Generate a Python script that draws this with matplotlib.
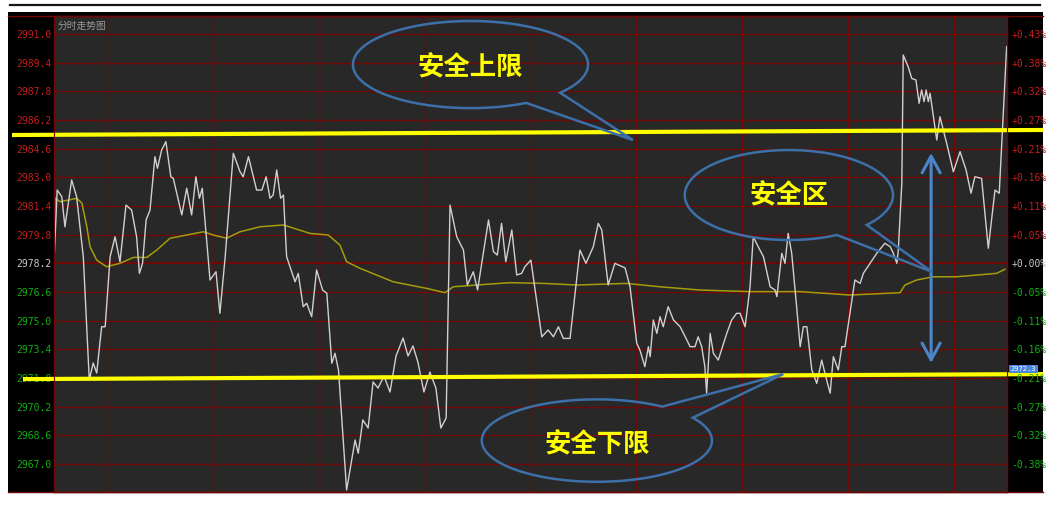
import numpy as np
import matplotlib
matplotlib.use('Agg')
import matplotlib.pyplot as plt
from matplotlib.patches import Rectangle, Polygon
from matplotlib.lines import Line2D
import matplotlib.transforms as mtrans

plt.rcParams['font.family'] = ['Noto Sans CJK SC', 'DejaVu Sans']

# intraday price (minute index, price)
price_t = [0, 0.9, 2.2, 3.1, 5.0, 6.4, 8.3, 10.0, 11.1, 12.1,
           13.5, 14.5, 15.9, 17.3, 18.7, 20.4, 22.0, 23.4, 24.2, 25.1,
           26.1, 27.2, 28.6, 29.3, 30.5, 31.7, 33.1, 33.8, 36.2, 37.6,
           39.0, 40.2, 41.2, 42.0, 44.2, 45.9, 47.0, 48.5, 50.8, 52.7,
           53.6, 55.1, 57.4, 58.9, 60.1, 61.2, 62.1, 63.1, 64.2, 65.0,
           65.9, 68.3, 69.2, 70.6, 71.6, 73.0, 74.4, 76.1, 77.3, 78.7,
           79.6, 80.6, 82.9, 85.3, 86.2, 87.5, 89.0, 90.4, 91.8, 93.5,
           95.2, 96.9, 98.9, 100.3, 101.7, 103.1, 104.8, 106.5, 108.2, 109.6,
           111.1, 112.2, 114.1, 116.0, 117.1, 118.8, 120.0, 123.1, 124.5, 125.6,
           126.8, 128.0, 129.7, 131.1, 132.5, 133.4, 135.1, 138.2, 140.0, 141.5,
           142.9, 144.3, 146.2, 149.0, 150.7, 152.8, 154.2, 155.2, 157.0, 158.9,
           161.8, 163.2, 165.1, 166.0, 167.4, 168.4, 168.9, 169.8, 170.8, 171.7,
           172.6, 174.0, 175.5, 177.4, 179.3, 180.2, 181.6, 182.5, 183.5, 184.4,
           184.9, 185.9, 186.8, 188.2, 190.6, 192.0, 193.4, 194.4, 195.8, 197.2,
           198.1, 200.0, 201.0, 202.9, 204.3, 204.8, 206.2, 207.1, 208.0, 209.0,
           210.4, 211.4, 212.3, 213.3, 214.7, 216.1, 217.5, 218.9, 219.9, 220.8,
           222.2, 223.2, 224.1, 225.5, 226.9, 228.4, 229.3, 231.2, 233.1, 235.4,
           236.9, 237.8, 238.8, 239.2, 240.2, 240.6, 242.0, 243.0, 244.2, 245.1,
           245.8, 246.5, 247.1, 247.7, 248.2, 250.1, 251.0, 252.9, 254.8, 256.7,
           258.4, 259.8, 260.9, 262.8, 264.7, 266.6, 267.8, 269.9]
price = [2978.29, 2982.29, 2981.92, 2980.24, 2982.85, 2981.92, 2978.57, 2971.69, 2972.64, 2972.08,
         2974.66, 2974.66, 2978.57, 2979.68, 2978.29, 2981.45, 2981.17, 2979.68, 2977.64, 2978.22,
         2980.62, 2981.17, 2984.15, 2983.50, 2984.52, 2984.99, 2983.03, 2982.94, 2980.90, 2982.39,
         2980.90, 2983.03, 2981.83, 2982.39, 2977.27, 2977.73, 2975.41, 2978.57, 2984.34, 2983.31,
         2983.03, 2984.15, 2982.29, 2982.29, 2983.03, 2981.83, 2982.01, 2983.41, 2981.83, 2982.01,
         2978.57, 2977.17, 2977.64, 2975.78, 2975.97, 2975.22, 2977.83, 2976.71, 2976.53, 2972.62,
         2973.18, 2972.25, 2965.55, 2968.34, 2967.60, 2969.46, 2969.01, 2971.58, 2971.24, 2971.91,
         2971.02, 2973.03, 2974.03, 2973.03, 2973.59, 2972.69, 2971.02, 2972.13, 2971.24, 2969.01,
         2969.57, 2981.45, 2979.68, 2978.94, 2976.99, 2977.73, 2976.71, 2980.62, 2978.85, 2978.66,
         2980.43, 2978.29, 2980.06, 2977.55, 2977.64, 2978.01, 2978.38, 2974.10, 2974.48, 2974.10,
         2974.66, 2974.01, 2974.01, 2978.94, 2978.20, 2979.13, 2980.43, 2980.06, 2976.99, 2978.20,
         2977.94, 2976.89, 2973.74, 2973.36, 2972.43, 2973.55, 2972.99, 2975.04, 2974.29, 2975.22,
         2974.66, 2975.78, 2975.04, 2974.66, 2973.92, 2973.55, 2973.55, 2974.10, 2973.55, 2972.43,
         2970.95, 2974.29, 2973.18, 2972.80, 2974.29, 2975.04, 2975.41, 2975.41, 2974.66, 2976.89,
         2979.68, 2978.94, 2978.57, 2976.89, 2976.71, 2976.34, 2978.76, 2978.20, 2979.87, 2978.76,
         2975.78, 2973.55, 2974.66, 2974.66, 2972.25, 2971.50, 2972.80, 2971.69, 2970.95, 2972.99,
         2972.25, 2973.55, 2973.55, 2975.41, 2977.27, 2977.08, 2977.64, 2978.20, 2978.76, 2979.32,
         2979.13, 2978.76, 2978.20, 2978.94, 2982.66, 2989.82, 2989.17, 2988.52, 2988.43, 2987.13,
         2987.87, 2987.22, 2987.87, 2987.22, 2987.69, 2985.08, 2986.38, 2984.90, 2983.31, 2984.43,
         2983.41, 2982.11, 2983.03, 2982.94, 2979.04, 2982.29, 2982.11, 2990.29]

# average price line
avg_t = [0, 0.3, 1.7, 4.1, 6.4, 7.9, 9.3, 10.2, 12.1, 14.9,
         18.7, 22.5, 26.3, 29.1, 32.9, 37.6, 42.3, 45.1, 48.9, 52.7,
         58.4, 65.0, 72.5, 77.7, 81.0, 82.9, 86.7, 96.1, 105.6, 110.8,
         113.1, 119.8, 129.2, 138.6, 148.1, 162.2, 171.7, 183.0, 197.2, 211.4,
         225.5, 239.7, 241.1, 244.4, 249.1, 255.8, 267.1, 269.4]
avg = [2979.50, 2981.84, 2981.64, 2981.73, 2981.83, 2981.56, 2980.24, 2979.13, 2978.38, 2978.01,
       2978.20, 2978.53, 2978.53, 2978.94, 2979.60, 2979.78, 2979.96, 2979.78, 2979.60, 2979.96,
       2980.24, 2980.34, 2979.87, 2979.78, 2979.22, 2978.29, 2977.92, 2977.17, 2976.80, 2976.56,
       2976.89, 2976.99, 2977.12, 2977.08, 2976.99, 2977.08, 2976.89, 2976.71, 2976.62, 2976.62,
       2976.43, 2976.56, 2976.99, 2977.27, 2977.45, 2977.45, 2977.64, 2977.87]

prev_close = 2978.2
y_ticks = [2991.0, 2989.4, 2987.8, 2986.2, 2984.6, 2983.0, 2981.4, 2979.8,
           2978.2, 2976.6, 2975.0, 2973.4, 2971.8, 2970.2, 2968.6, 2967.0]
y_labels = ['2991.0', '2989.4', '2987.8', '2986.2', '2984.6', '2983.0', '2981.4', '2979.8',
            '2978.2', '2976.6', '2975.0', '2973.4', '2971.8', '2970.2', '2968.6', '2967.0']
pct_labels = ['+0.43%', '+0.38%', '+0.32%', '+0.27%', '+0.21%', '+0.16%', '+0.11%', '+0.05%',
              '+0.00%', '-0.05%', '-0.11%', '-0.16%', '-0.21%', '-0.27%', '-0.32%', '-0.38%']
x_grid = [15, 45, 75, 105, 135, 165, 195, 225, 255]

# hand drawn annotations
upper_x = [-11.9, 280.2]
upper_y = [2985.36, 2985.64]
lower_x = [-8.8, 280.2]
lower_y = [2971.74, 2972.02]
arrow_t = 248.5
arrow_top = 2984.36
arrow_bottom = 2972.64

RED = '#c41e1e'
GREEN = '#10b010'
GREY = '#c8c8c8'
GRID = '#700808'
BLUE = '#3d6fa8'

fig = plt.figure(figsize=(10.5, 5.07), dpi=100)
fig.patch.set_facecolor('white')
W, H = 1050., 507.
fig.add_artist(Rectangle((8/W, 1-493/H), 1035/W, 481/H, transform=fig.transFigure,
                         facecolor='black', edgecolor='none', zorder=0))
fig.add_artist(Line2D([10/W, 1040/W], [1-5/H, 1-5/H], transform=fig.transFigure,
                      color='#151515', lw=1.6))
for yy in [16, 492]:
    fig.add_artist(Line2D([8/W, 1043/W], [1-yy/H, 1-yy/H], transform=fig.transFigure,
                          color=GRID, lw=1.0, zorder=1))

ax = fig.add_axes([54/W, 1-492/H, 953/W, 476/H])
ax.set_facecolor('#282828')
ax.set_xlim(0, 270)
ax.set_ylim(2965.44, 2992.0)
for v in y_ticks:
    ax.axhline(v, color=GRID, lw=1.6 if v == prev_close else 1.0, zorder=1)
for m in x_grid:
    ax.axvline(m, color=GRID, lw=1.0, zorder=1)
for s in ax.spines.values():
    s.set_color(GRID)
    s.set_linewidth(1.0)
ax.set_xticks([])
ax.set_yticks(y_ticks)
ax.set_yticklabels(y_labels, fontfamily='DejaVu Sans Mono', fontsize=7)
ax.tick_params(axis='y', length=0, pad=2)

def label_color(v):
    if v > prev_close:
        return RED
    if v < prev_close:
        return GREEN
    return GREY

for lab, v in zip(ax.get_yticklabels(), y_ticks):
    lab.set_color(label_color(v))

ax2 = ax.twinx()
ax2.set_ylim(ax.get_ylim())
ax2.set_yticks(y_ticks)
ax2.set_yticklabels(pct_labels, fontfamily='DejaVu Sans Mono', fontsize=7)
ax2.tick_params(axis='y', length=0, pad=3)
for lab, v in zip(ax2.get_yticklabels(), y_ticks):
    lab.set_color(label_color(v))
for s in ax2.spines.values():
    s.set_color(GRID)

ax.plot(avg_t, avg, color='#a49c08', lw=1.1, zorder=3)
ax.plot(price_t, price, color='#d0d0d0', lw=1.0, zorder=4)

ax.text(0.004, 0.979, '分时走势图', transform=ax.transAxes, fontsize=7,
        color='#9a9a9a', ha='left', va='center')

# last price marker on right scale
trans = mtrans.blended_transform_factory(ax.transAxes, ax.transData)
ax.text(1.004, 2972.3, '2972.3', transform=trans, fontsize=5, color='white',
        fontfamily='DejaVu Sans Mono', ha='left', va='center', zorder=8,
        bbox=dict(facecolor='#4a86e0', edgecolor='none', pad=1.0), clip_on=False)

# safety limits
ax.plot(upper_x, upper_y, color='#ffff00', lw=3, zorder=6, clip_on=False,
        solid_capstyle='butt')
ax.plot(lower_x, lower_y, color='#ffff00', lw=3, zorder=6, clip_on=False,
        solid_capstyle='butt')

ax.annotate('', xy=(arrow_t, arrow_top), xytext=(arrow_t, arrow_bottom),
            arrowprops=dict(arrowstyle='<->,head_length=1.2,head_width=0.65',
                            color='#4a86c8', lw=2.2, shrinkA=0, shrinkB=0),
            zorder=7)

def bubble(cx, cy, a, b, t0, t1, tip, label, ty):
    t = np.radians(np.linspace(t0, t1, 240))
    xy = np.column_stack([cx + a*np.cos(t), cy + b*np.sin(t)])
    xy = np.vstack([xy, tip])
    ax.add_patch(Polygon(xy, closed=True, fill=False, edgecolor=BLUE, lw=1.8,
                         clip_on=False, zorder=7, joinstyle='miter'))
    ax.text(cx, ty, label, fontsize=19, fontweight='bold', color='#ffff00',
            ha='center', va='center', zorder=8)

bubble(118.0, 2989.29, 33.3, 2.43, -40.3, 298.3, (164.0, 2985.08), '安全上限', 2989.1)
bubble(208.2, 2982.01, 29.5, 2.51, -41.6, 297.5, (248.7, 2977.73), '安全区', 2981.95)
bubble(153.8, 2968.31, 32.6, 2.30, 55.4, 393.6, (206.6, 2972.02), '安全下限', 2968.05)

fig.savefig('out.png', dpi=100, facecolor='white')
